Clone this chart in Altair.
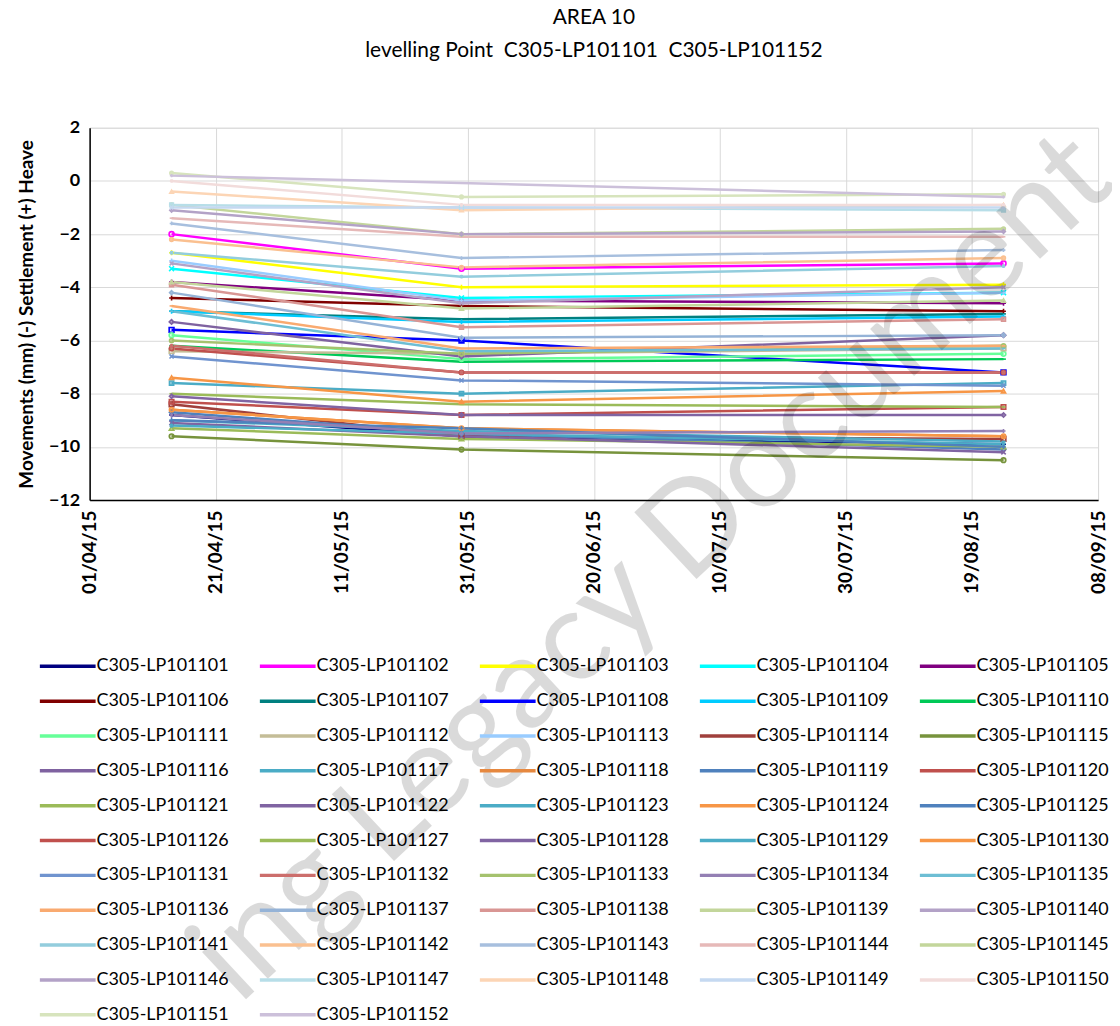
import altair as alt
import pandas as pd

# ---------------- data ----------------
DATES = ["2015-04-14", "2015-05-30", "2015-08-24"]

SERIES = [f"C305-LP1011{n:02d}" for n in range(1, 53)]

V_APR = [-8.8, -2.0, -2.7, -3.3, -3.8, -4.4, -4.9, -5.6, -4.9, -6.2,
         -5.8, -6.4, -3.0, -8.4, -9.6, -5.3, -9.0, -8.6, -8.7, -8.3,
         -9.3, -9.1, -9.2, -8.6, -9.0, -6.3, -8.0, -8.1, -7.6, -7.4,
         -6.6, -6.2, -6.0, -8.8, -4.9, -4.7, -4.2, -3.9, -3.8, -3.1,
         -2.7, -2.2, -1.6, -1.4, -0.9, -1.1, -0.9, -0.4, -1.0, 0.0,
         0.3, 0.2]
V_MAY = [-9.6, -3.3, -4.0, -4.4, -4.5, -4.7, -5.2, -6.0, -5.3, -6.8,
         -6.7, -6.5, -4.5, -9.6, -10.1, -6.6, -9.4, -9.3, -9.5, -8.8,
         -9.7, -9.6, -9.5, -9.3, -9.3, -7.2, -8.4, -8.8, -8.0, -8.3,
         -7.5, -7.2, -6.5, -9.5, -6.4, -6.3, -5.9, -5.5, -4.8, -4.6,
         -3.6, -3.25, -2.9, -2.1, -2.0, -2.0, -1.0, -1.1, -1.0, -0.9,
         -0.6, None]
V_AUG = [-9.9, -3.1, -3.9, -4.2, -4.6, -4.9, -5.0, -7.2, -5.1, -6.7,
         -6.5, -6.3, -4.2, -9.7, -10.5, -5.8, -9.8, -9.6, -10.1, -8.5,
         -10.0, -10.2, -9.9, -9.6, -10.0, -7.2, -8.5, -8.8, -7.6, -7.9,
         -7.7, -7.2, -6.2, -9.4, -6.3, -6.2, -5.8, -5.2, -4.5, -4.0,
         -3.2, -2.9, -2.6, -2.1, -1.8, -1.9, -1.1, -0.9, -1.0, -0.9,
         -0.5, -0.6]

X_TICKS = ["2015-04-01", "2015-04-21", "2015-05-11", "2015-05-31", "2015-06-20",
           "2015-07-10", "2015-07-30", "2015-08-19", "2015-09-08"]
Y_TICKS = [-12, -10, -8, -6, -4, -2, 0, 2]

NB = "\u00a0"
TITLE = "AREA 10"
SUBTITLE = f"levelling Point{NB}{NB}C305-LP101101{NB}{NB}C305-LP101152"
Y_TITLE = "Movements (mm) (-) Settlement (+) Heave"
WATERMARK = "ing Legacy Document"

# ---------------- styles ----------------
COLORS = ["#000080", "#FF00FF", "#FFFF00", "#00FFFF", "#800080", "#800000", "#008080", "#0000FF",
          "#00CCFF", "#00C957", "#66FF99", "#C4BD97", "#99CCFF", "#A0403C", "#77933C", "#7F62A0",
          "#4BACC6", "#E6883F", "#4F81BD", "#C0504D", "#9BBB59", "#8064A2", "#4BACC6", "#F79646",
          "#4F81BD", "#C0504D", "#9BBB59", "#8064A2", "#4BACC6", "#F79646", "#7094CF", "#CC6E6C",
          "#A5C26E", "#9480B4", "#6DBED4", "#F9AA70", "#95B3D7", "#D99694", "#C3D69B", "#B3A2C7",
          "#93CDDD", "#FAC090", "#A7BFDE", "#E6B9B8", "#C3D69B", "#B3A2C7", "#B7DEE8", "#FCD5B5",
          "#C5D9F1", "#F2DCDB", "#D7E4BD", "#CCC0DA"]
MARKERS = ["plus-s", "dot", "plus-s", "x-s", "plus-s", "plus-s", "dash", "square-s", "plus-s", "dash",
           "none", "square-s", "plus-s", "square", "circle", "diamond", "dash", "dash", "diamond", "square",
           "triangle", "x", "star", "circle", "plus", "none", "dash", "diamond", "square", "triangle",
           "xl", "star", "circle", "plus", "dash", "dash", "diamond", "square", "triangle", "x",
           "star", "circle", "plus", "dash", "none", "diamond", "square", "triangle", "x", "star",
           "circle", "plus"]
PLUS = "M0,-1L0,1M-1,0L1,0"
XS = "M-1,-1L1,1M-1,1L1,-1"
STAR = "M0,-1L0,1M-0.87,-0.5L0.87,0.5M-0.87,0.5L0.87,-0.5"
DASH = "M-1,0L1,0"
SHAPE_OF = {"plus-s": PLUS, "dot": "circle", "x-s": XS, "dash": DASH, "square-s": "square",
            "none": "circle", "square": "square", "circle": "circle", "diamond": "diamond",
            "triangle": "triangle-up", "x": XS, "star": STAR, "plus": PLUS, "xl": XS}
SIZE_OF = {"plus-s": 25, "dot": 12, "x-s": 25, "dash": 35, "square-s": 14, "none": 0,
           "square": 36, "circle": 36, "diamond": 40, "triangle": 60, "x": 45, "star": 50,
           "plus": 60, "xl": 130}
FILLED = {"dot", "square-s", "square", "circle", "diamond", "triangle"}

rows = []
for i, s in enumerate(SERIES):
    for d, v in zip(DATES, (V_APR[i], V_MAY[i], V_AUG[i])):
        if v is not None:
            rows.append({"series": s, "date": d, "value": v})
df = pd.DataFrame(rows)

FONT = "Lato"
PT_DOMAIN = ["p" + s for s in SERIES]


def dt(s):
    y, m, d = (int(p) for p in s.split("-"))
    return alt.DateTime(year=y, month=m, date=d, utc=True)


x_enc = alt.X("date:T", title=None,
              scale=alt.Scale(type="utc", domain=[dt(X_TICKS[0]), dt(X_TICKS[-1])]),
              axis=alt.Axis(values=[dt(t) for t in X_TICKS],
                            labelExpr="utcFormat(datum.value, '%d/%m/%y')",
                            labelAngle=270, labelAlign="right", labelBaseline="middle",
                            labelFontSize=19, labelFontWeight="bold", labelPadding=10,
                            labelColor="black", ticks=False, grid=True, gridColor="#D9D9D9",
                            domainColor="black", domainWidth=1.5, labelFont=FONT))
y_enc = alt.Y("value:Q", title=Y_TITLE,
              scale=alt.Scale(domain=[-12, 2], nice=False, zero=False),
              axis=alt.Axis(values=Y_TICKS, labelFontSize=18, labelFontWeight="bold",
                            labelColor="black", labelPadding=10, ticks=False,
                            grid=True, gridColor="#D9D9D9", domainColor="black", domainWidth=1.5,
                            titleFontSize=19, titleFontWeight="bold", titleColor="black",
                            titlePadding=12, titleFont=FONT, labelFont=FONT))

base = alt.Chart(df)

# legend symbol: a horizontal stroke ~56px long inside a 14px symbol cell
LEGEND_STROKE = "M-1,0L7,0"

lines = base.mark_line(strokeWidth=2.5).encode(
    x=x_enc, y=y_enc,
    color=alt.Color("series:N", scale=alt.Scale(domain=SERIES, range=COLORS), sort=SERIES,
                    legend=alt.Legend(title=None, orient="none", legendX=-52, legendY=532,
                                      direction="horizontal", columns=5, symbolLimit=0,
                                      symbolType=LEGEND_STROKE, symbolSize=196,
                                      symbolStrokeWidth=3.5, labelFontSize=18, labelFont=FONT,
                                      labelColor="black", labelLimit=0, labelOffset=41,
                                      columnPadding=24, rowPadding=17, padding=0)),
    strokeWidth=alt.condition(alt.datum.series == "C305-LP101145", alt.value(6.5), alt.value(2.5)),
)

points = base.transform_calculate(pt="'p' + datum.series").mark_point(
    filled=False, strokeWidth=1.6, opacity=1).encode(
    x="date:T", y="value:Q",
    stroke=alt.Stroke("pt:N", scale=alt.Scale(domain=PT_DOMAIN, range=COLORS), legend=None),
    fill=alt.Fill("pt:N", scale=alt.Scale(domain=PT_DOMAIN, range=COLORS), legend=None),
    fillOpacity=alt.FillOpacity("pt:N", scale=alt.Scale(domain=PT_DOMAIN,
                                range=[1 if m in FILLED else 0 for m in MARKERS]), legend=None),
    shape=alt.Shape("pt:N", scale=alt.Scale(domain=PT_DOMAIN,
                    range=[SHAPE_OF[m] for m in MARKERS]), legend=None),
    size=alt.Size("pt:N", scale=alt.Scale(domain=PT_DOMAIN,
                  range=[SIZE_OF[m] for m in MARKERS]), legend=None),
)

watermark = alt.Chart(pd.DataFrame({"t": [WATERMARK]})).mark_text(
    font=FONT, fontSize=128, angle=317, align="left", baseline="alphabetic",
    color="black", opacity=0.14,
).encode(text="t:N", x=alt.value(150), y=alt.value(882))

chart = alt.layer(lines, points, watermark).properties(
    width=1013, height=374,
    title=alt.Title(TITLE, subtitle=SUBTITLE, fontSize=21, subtitleFontSize=21,
                    font=FONT, subtitleFont=FONT, fontWeight="normal", color="black",
                    subtitleColor="black", anchor="middle", frame="group",
                    offset=49, subtitlePadding=12),
    autosize=alt.AutoSizeParams(type="none"),
    padding={"left": 82, "top": 118, "right": 14, "bottom": 522},
).configure_view(stroke=None).configure(background="white")

chart.save("out.html", embed_options={"renderer": "svg", "actions": False})
